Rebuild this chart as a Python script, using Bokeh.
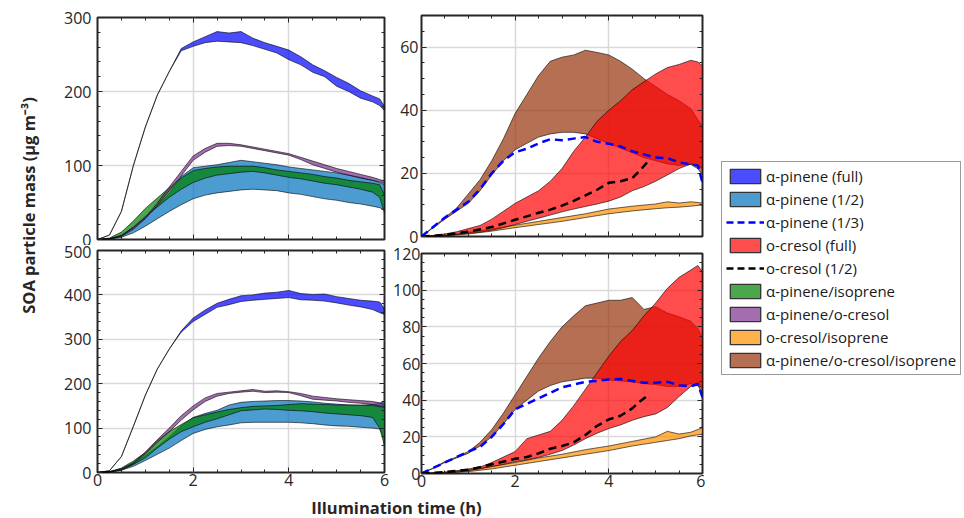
from math import pi
from bokeh.plotting import figure
from bokeh.models import (Range1d, SingleIntervalTicker, LinearAxis, Label,
                          Legend, LegendItem)
from bokeh.layouts import row, column
from bokeh.embed import file_html
from bokeh.resources import INLINE

# ---------------- data ----------------
t = [0, 0.25, 0.5, 0.75, 1.0, 1.25, 1.5, 1.75, 2.0, 2.25, 2.5, 2.75, 3.0,
     3.25, 3.5, 3.75, 4.0, 4.25, 4.5, 4.75, 5.0, 5.25, 5.5, 5.75, 5.9, 6.0]
t_orange = [0, 0.5, 1.0, 1.5, 2.0, 2.5, 3.0, 3.5, 4.0, 4.5, 5.0, 5.25, 5.5, 5.75, 6.0]
t_cre_a = [0, 0.5, 1.0, 1.5, 2.0, 2.5, 2.75, 3.0, 3.25, 3.5, 3.75, 4.0, 4.25, 4.5, 4.7, 4.85]
t_cre_b = [0, 0.5, 1.0, 1.5, 2.0, 2.25, 2.5, 2.75, 3.0, 3.25, 3.5, 3.75, 4.0, 4.25, 4.5, 4.65, 4.85]

# panel (a) left: alpha-pinene experiments
a_apfull_lo = [0, 6, 38, 100, 152, 195, 227, 255, 261, 266, 268, 267, 266, 262, 257, 252, 243, 236, 226, 220, 207, 200, 191, 186, 181, 174]
a_apfull_hi = [0, 6, 38, 100, 152, 195, 227, 258, 267, 274, 281, 279, 281, 272, 266, 261, 256, 247, 236, 228, 219, 211, 201, 194, 190, 180]
a_aphalf_lo = [0, 0.5, 3, 9, 18, 28, 38, 47, 55, 60, 63, 65, 67, 68, 67, 66, 63, 61, 58, 55, 53, 50, 48, 45, 43, 40]
a_aphalf_hi = [0, 1, 6, 16, 30, 45, 62, 85, 97, 99, 101, 104, 107, 105, 103, 101, 98, 96, 94, 92, 90, 87, 84, 80, 77, 74]
a_apiso_lo = [0, 1, 5, 17, 31, 44, 57, 68, 77, 83, 87, 89, 91, 92, 90, 87, 84, 82, 79, 76, 74, 71, 68, 64, 57, 36]
a_apiso_hi = [0, 2, 10, 25, 42, 56, 70, 83, 93, 96, 98, 99, 99, 99, 97, 94, 92, 90, 88, 85, 83, 80, 78, 76, 74, 60]
a_apcre_lo = [0, 0.5, 4, 14, 28, 46, 66, 86, 107, 118, 126, 127, 126, 123, 120, 117, 114, 108, 101, 96, 91, 87, 83, 80, 78, 76]
a_apcre_hi = [0, 1, 5, 16, 30, 49, 71, 92, 113, 123, 130, 130, 128, 125, 122, 119, 116, 111, 106, 101, 96, 92, 88, 84, 81, 79]

# panel (a) right: o-cresol experiments
a_brown_lo = [0, 2.8, 5.5, 8, 10.5, 14.5, 19.5, 24, 27.5, 29.5, 31.5, 32.5, 33, 33, 32.5, 31, 29.5, 28, 26.5, 25, 24, 23, 22.5, 22.8, 21.5, 19.5]
a_brown_hi = [0, 3, 6, 9, 13.5, 18, 24, 31, 39, 45, 51, 55.5, 56.8, 57.5, 59, 58.3, 57.5, 55.5, 53, 50, 47.5, 45, 43, 40.5, 37, 35]
a_red_lo = [0, 0.1, 0.3, 0.6, 1.0, 1.4, 2.0, 2.8, 3.8, 4.8, 5.8, 6.8, 7.8, 8.7, 9.5, 10.3, 11.2, 12.5, 14.5, 15.8, 17.5, 19.5, 21.5, 23, 22.5, 21.5]
a_red_hi = [0, 0.3, 0.8, 1.5, 2.5, 3.5, 5.5, 8, 10.5, 12.5, 14.5, 17.5, 21.5, 27, 31.5, 36.5, 40, 43, 46.5, 49, 51.5, 53.5, 54.5, 55.8, 55.3, 54]
a_orange_lo = [0, 0.2, 0.8, 1.7, 2.8, 3.8, 4.8, 6.0, 7.2, 8.1, 8.8, 9.1, 9.3, 9.6, 10.0]
a_orange_hi = [0, 0.4, 1.3, 2.4, 3.6, 4.8, 6.0, 7.2, 8.7, 9.6, 10.3, 11.0, 10.6, 11.0, 10.6]
a_ap13 = [0, 3, 6, 8.5, 11, 15, 20, 24, 26.7, 27.8, 29.5, 30.8, 30.5, 31, 31.5, 30, 29.4, 28.5, 27, 26, 25, 24.8, 23.5, 22.8, 22.5, 17]
a_cre12 = [0, 0.5, 1.5, 3, 5.3, 7.5, 8.5, 9.8, 11.3, 13, 14.8, 17, 17.5, 18.5, 21.5, 24]

# panel (b) left
b_apfull_lo = [0, 4, 36, 104, 174, 233, 278, 316, 340, 356, 372, 378, 385, 388, 390, 392, 394, 389, 388, 386, 382, 377, 373, 367, 360, 356]
b_apfull_hi = [0, 4, 36, 104, 174, 233, 278, 319, 348, 366, 381, 390, 398, 400, 404, 406, 410, 403, 401, 402, 396, 392, 388, 386, 384, 368]
b_aphalf_lo = [0, 1, 5, 14, 27, 41, 55, 72, 88, 97, 103, 107, 112, 113, 113, 113, 113, 112, 110, 107, 105, 104, 102, 100, 98, 75]
b_aphalf_hi = [0, 2, 8, 20, 38, 58, 80, 105, 124, 133, 140, 152, 158, 160, 161, 162, 162, 161, 159, 156, 154, 152, 151, 153, 156, 160]
b_apiso_lo = [0, 1, 6, 18, 33, 55, 75, 92, 103, 113, 121, 130, 139, 141, 143, 142, 140, 139, 137, 134, 132, 130, 128, 124, 100, 60]
b_apiso_hi = [0, 2, 10, 26, 45, 72, 92, 108, 123, 130, 136, 142, 146, 149, 150, 151, 153, 155, 154, 153, 152, 152, 152, 151, 148, 148]
b_apcre_lo = [0, 1, 6, 20, 42, 68, 92, 118, 141, 160, 172, 178, 181, 183, 180, 181, 180, 173, 165, 163, 161, 158, 156, 153, 150, 147]
b_apcre_hi = [0, 1.5, 8, 22, 46, 74, 100, 128, 150, 168, 178, 181, 184, 187, 183, 184, 182, 178, 172, 169, 166, 164, 162, 160, 157, 153]

# panel (b) right
b_brown_lo = [0, 2.8, 6, 8.5, 11, 15, 20, 27, 35, 40, 45, 48, 50, 51, 52, 52, 51, 50.5, 50, 49, 48.5, 47.5, 47.5, 49, 48, 43.5]
b_brown_hi = [0, 3, 6.5, 9, 12, 17, 24, 33, 43, 53, 63, 72, 80, 86, 91.5, 93, 94.5, 94.5, 96, 89.5, 91, 87.5, 85.5, 83, 79, 74]
b_red_lo = [0, 0.1, 0.3, 0.8, 1.5, 2.5, 3.8, 5, 6.5, 7.5, 8.8, 10.5, 12.5, 15.5, 19, 22, 24.5, 26.5, 29, 31, 32.5, 36, 42, 47.5, 48, 47]
b_red_hi = [0, 0.3, 0.8, 1.5, 2.5, 3.5, 6, 9, 12, 19, 21, 23, 29, 37, 46, 55, 64, 72, 78, 86, 93, 101, 107, 111, 113.5, 110]
b_orange_lo = [0, 0.3, 1, 2.5, 4.5, 6.5, 8.5, 10.5, 12.5, 15, 17, 18, 19, 20.5, 21.5]
b_orange_hi = [0, 0.6, 2, 3.8, 6, 8.5, 10.5, 13, 15, 17.5, 20, 23, 21.5, 22.5, 25]
b_ap13 = [0, 3, 6, 9, 12, 14.5, 20, 27, 35, 38, 41, 44, 47, 48.5, 50, 50.5, 51.3, 51.5, 50.5, 49.5, 49.5, 50, 48.2, 47.5, 49, 41.5]
b_cre12 = [0, 0.8, 2, 5, 8, 9, 11, 13.5, 15, 17, 21, 26, 29.5, 31.5, 35.5, 39, 43]

labels = ["α-pinene (full)", "α-pinene (1/2)", "α-pinene (1/3)", "o-cresol (full)",
          "o-cresol (1/2)", "α-pinene/isoprene", "α-pinene/o-cresol",
          "o-cresol/isoprene", "α-pinene/o-cresol/isoprene"]

# ---------------- style ----------------
FONT = "Open Sans"
AXC = "#262626"
C_BLUE = "#0000ff"
C_LBLUE = "#0072bd"
C_RED = "#ff0000"
C_GREEN = "#008000"
C_PURPLE = "#7e2f8e"
C_ORANGE = "#ff9000"
C_BROWN = "#95330a"
ALPHA = 0.7
DASH = "8 5"


def panel(w, h, bl, br, bt, bb, ymax, yint, nminor, show_x, ystand):
    p = figure(width=w, height=h, x_range=Range1d(0, 6), y_range=Range1d(0, ymax),
               output_backend="svg", toolbar_location=None,
               min_border_left=bl, min_border_right=br,
               min_border_top=bt, min_border_bottom=bb,
               background_fill_color="white", border_fill_color="white")
    xt = SingleIntervalTicker(interval=2, num_minor_ticks=4)
    yt = SingleIntervalTicker(interval=yint, num_minor_ticks=nminor)
    p.xaxis.ticker = xt
    p.yaxis.ticker = yt
    top = LinearAxis(ticker=xt)
    right = LinearAxis(ticker=yt)
    p.add_layout(top, "above")
    p.add_layout(right, "right")
    for ax in p.axis:
        ax.axis_line_color = None
        ax.major_tick_in = 5
        ax.major_tick_out = 0
        ax.minor_tick_in = 3
        ax.minor_tick_out = 0
        ax.major_tick_line_color = AXC
        ax.minor_tick_line_color = AXC
        ax.major_tick_line_width = 1
        ax.minor_tick_line_width = 1
        ax.major_label_text_font = FONT
        ax.major_label_text_font_size = "16px"
        ax.major_label_text_color = AXC
    hidden = [top, right]
    if not show_x:
        hidden.append(p.below[0])
    for ax in hidden:
        ax.major_label_text_color = None
        ax.major_label_standoff = 0
    p.left[0].major_label_standoff = ystand
    p.below[0].major_label_standoff = 1
    p.grid.grid_line_color = "#d9d9d9"
    p.grid.grid_line_width = 1.5
    p.outline_line_color = AXC
    p.outline_line_width = 2
    return p


def band(p, x, lo, hi, color, lw=0.6, lc="black"):
    xs = list(x) + list(x)[::-1]
    ys = list(hi) + list(lo)[::-1]
    return p.patch(xs, ys, fill_color=color, fill_alpha=ALPHA, line_color=lc,
                   line_width=lw)


def left_panel(p, apf_lo, apf_hi, aph_lo, aph_hi, api_lo, api_hi, apc_lo, apc_hi):
    band(p, t, aph_lo, aph_hi, C_LBLUE)
    band(p, t, api_lo, api_hi, C_GREEN)
    band(p, t, apc_lo, apc_hi, C_PURPLE)
    band(p, t, apf_lo, apf_hi, C_BLUE)


def right_panel(p, br_lo, br_hi, or_lo, or_hi, rd_lo, rd_hi, ap13, tc, cre12):
    band(p, t, br_lo, br_hi, C_BROWN)
    band(p, t_orange, or_lo, or_hi, C_ORANGE)
    band(p, t, rd_lo, rd_hi, C_RED)
    p.line(t, ap13, line_color=C_BLUE, line_width=2.5, line_dash=DASH)
    p.line(tc, cre12, line_color="black", line_width=2.5, line_dash=DASH)


# ---------------- panels ----------------
LW, RW = 342, 315
tl = panel(LW, 245, 49, 6, 17, 6, 300, 100, 5, False, 6)
left_panel(tl, a_apfull_lo, a_apfull_hi, a_aphalf_lo, a_aphalf_hi,
           a_apiso_lo, a_apiso_hi, a_apcre_lo, a_apcre_hi)
bl = panel(LW, 250, 49, 6, 5, 23, 500, 100, 5, True, 6)
left_panel(bl, b_apfull_lo, b_apfull_hi, b_aphalf_lo, b_aphalf_hi,
           b_apiso_lo, b_apiso_hi, b_apcre_lo, b_apcre_hi)
tr = panel(RW, 245, 26, 3, 15, 9, 70, 20, 4, False, 3)
right_panel(tr, a_brown_lo, a_brown_hi, a_orange_lo, a_orange_hi,
            a_red_lo, a_red_hi, a_ap13, t_cre_a, a_cre12)
br = panel(RW, 250, 26, 3, 8, 22, 120, 20, 4, True, 1)
right_panel(br, b_brown_lo, b_brown_hi, b_orange_lo, b_orange_hi,
            b_red_lo, b_red_hi, b_ap13, t_cre_b, b_cre12)

tl.add_layout(Label(x=-20, y=204, x_units="screen", y_units="screen", text="(a)",
                    text_font=FONT, text_font_style="bold", text_font_size="16px",
                    text_color="#1a1a1a", text_align="center", text_baseline="middle"))
tl.add_layout(Label(x=-32, y=-6, x_units="screen", y_units="screen", text="(b)",
                    text_font=FONT, text_font_style="bold", text_font_size="16px",
                    text_color="#1a1a1a", text_align="center", text_baseline="bottom"))


# ---------------- shared axis labels ----------------
def strip(w, h, rng=(0, 1)):
    s = figure(width=w, height=h, x_range=Range1d(*rng), y_range=Range1d(*rng),
               x_axis_type=None, y_axis_type=None, output_backend="svg",
               toolbar_location=None, min_border=0, min_border_left=0,
               min_border_right=0, min_border_top=0, min_border_bottom=0,
               outline_line_color=None)
    return s


H = 518
XH = H - 245 - 250
ylab = strip(48, H)
ylab.add_layout(Label(x=28, y=H - 205, x_units="screen", y_units="screen",
                      text="SOA particle mass (μg m⁻³)", angle=pi / 2,
                      text_font=FONT, text_font_style="bold", text_font_size="16.5px",
                      text_color=AXC, text_align="center", text_baseline="middle"))
xlab = strip(LW + RW, XH)
xlab.add_layout(Label(x=348, y=XH / 2, x_units="screen", y_units="screen",
                      text="Illumination time (h)",
                      text_font=FONT, text_font_style="bold", text_font_size="16.5px",
                      text_color=AXC, text_align="center", text_baseline="middle"))

# ---------------- legend (swatches use the panel-(a) series, drawn off-view) ----------------
lf = strip(257, H, rng=(-50, -49))
items = [
    LegendItem(label=labels[0], renderers=[band(lf, t, a_apfull_lo, a_apfull_hi, C_BLUE, 1.3, "#333333")]),
    LegendItem(label=labels[1], renderers=[band(lf, t, a_aphalf_lo, a_aphalf_hi, C_LBLUE, 1.3, "#333333")]),
    LegendItem(label=labels[2], renderers=[lf.line(t, a_ap13, line_color=C_BLUE, line_width=2.5, line_dash="7 4")]),
    LegendItem(label=labels[3], renderers=[band(lf, t, a_red_lo, a_red_hi, C_RED, 1.3, "#333333")]),
    LegendItem(label=labels[4], renderers=[lf.line(t_cre_a, a_cre12, line_color="black", line_width=2.5, line_dash="7 4")]),
    LegendItem(label=labels[5], renderers=[band(lf, t, a_apiso_lo, a_apiso_hi, C_GREEN, 1.3, "#333333")]),
    LegendItem(label=labels[6], renderers=[band(lf, t, a_apcre_lo, a_apcre_hi, C_PURPLE, 1.3, "#333333")]),
    LegendItem(label=labels[7], renderers=[band(lf, t_orange, a_orange_lo, a_orange_hi, C_ORANGE, 1.3, "#333333")]),
    LegendItem(label=labels[8], renderers=[band(lf, t, a_brown_lo, a_brown_hi, C_BROWN, 1.3, "#333333")]),
]
leg = Legend(items=items, location=(16, H - 375), border_line_color="#333333",
             border_line_width=1.3, padding=4, spacing=3, glyph_width=38,
             glyph_height=18, label_height=20, label_standoff=2, margin=0,
             label_text_font=FONT, label_text_font_size="15px",
             label_text_color="#1a1a1a", background_fill_alpha=1)
lf.add_layout(leg, "center")

layout = row(ylab, column(row(column(tl, bl), column(tr, br)), xlab), lf)
open("out.html", "w").write(file_html(layout, INLINE))
